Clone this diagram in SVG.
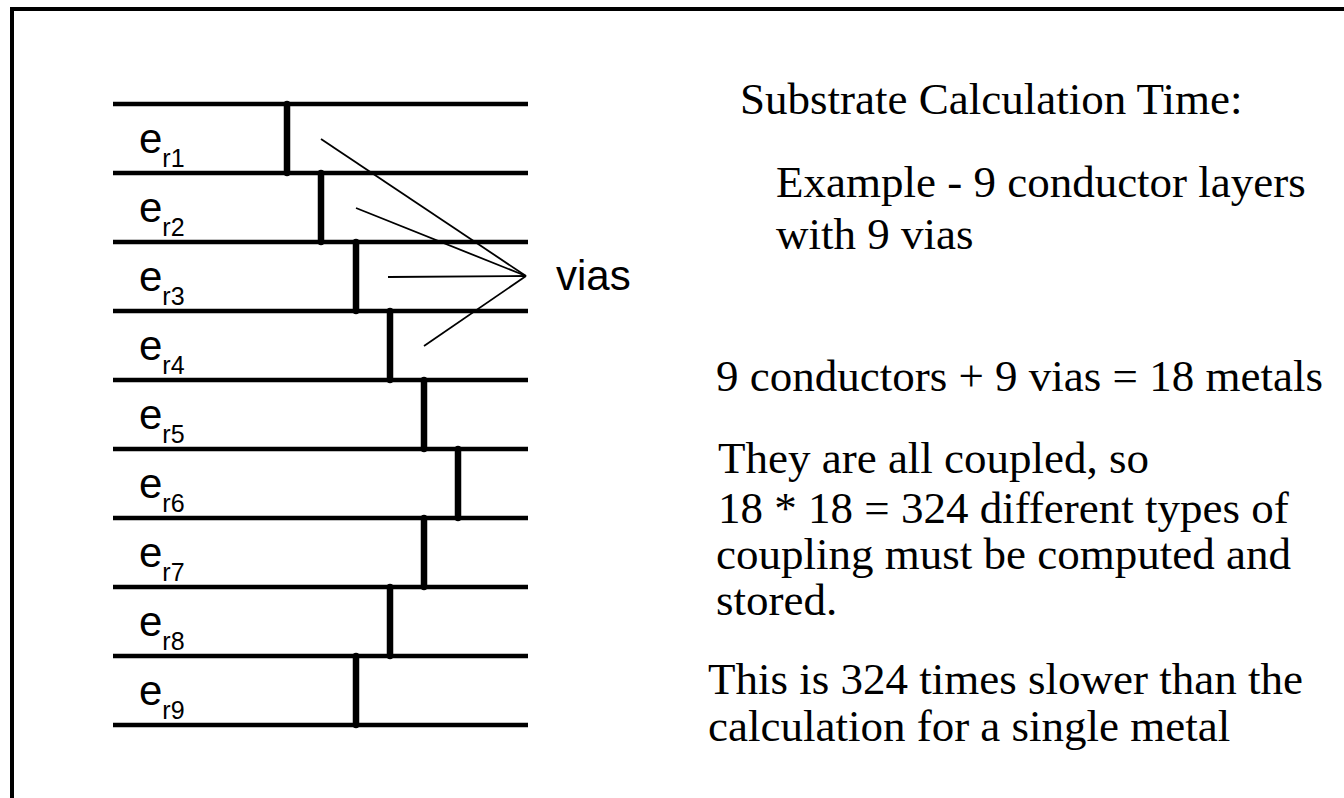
<svg xmlns="http://www.w3.org/2000/svg" width="1344" height="798" viewBox="0 0 1344 798">
<style>
.frame{fill:none;stroke:#000;stroke-width:4}
.layer{stroke:#000;stroke-width:4.5;stroke-linecap:butt}
.via{stroke:#000;stroke-width:6.5;stroke-linecap:round}
.ptr{stroke:#000;stroke-width:1.8;fill:none}
.lab{font-family:"Liberation Sans",Arial,sans-serif;fill:#000}
.e{font-size:42px}
.sub{font-size:25px}
.txt{font-family:"Liberation Serif","Times New Roman",serif;font-size:45px;fill:#000}
</style>
<rect width="1344" height="798" fill="#fff"/>
<path class="frame" d="M12,800 V9 H1350"/>
<g id="layers">
<line class="layer" x1="113" y1="104" x2="528" y2="104"/>
<line class="layer" x1="113" y1="173" x2="528" y2="173"/>
<line class="layer" x1="113" y1="242" x2="528" y2="242"/>
<line class="layer" x1="113" y1="311" x2="528" y2="311"/>
<line class="layer" x1="113" y1="380" x2="528" y2="380"/>
<line class="layer" x1="113" y1="449" x2="528" y2="449"/>
<line class="layer" x1="113" y1="518" x2="528" y2="518"/>
<line class="layer" x1="113" y1="587" x2="528" y2="587"/>
<line class="layer" x1="113" y1="656" x2="528" y2="656"/>
<line class="layer" x1="113" y1="725" x2="528" y2="725"/>
</g>
<g id="vias">
<line class="via" x1="287" y1="104" x2="287" y2="173"/>
<line class="via" x1="321" y1="173" x2="321" y2="242"/>
<line class="via" x1="356" y1="242" x2="356" y2="311"/>
<line class="via" x1="390" y1="311" x2="390" y2="380"/>
<line class="via" x1="424" y1="380" x2="424" y2="449"/>
<line class="via" x1="458" y1="449" x2="458" y2="518"/>
<line class="via" x1="424" y1="518" x2="424" y2="587"/>
<line class="via" x1="390" y1="587" x2="390" y2="656"/>
<line class="via" x1="356" y1="656" x2="356" y2="725"/>
</g>
<g id="labels">
<text class="lab" x="139" y="153"><tspan class="e">e</tspan><tspan class="sub" dy="14">r1</tspan></text>
<text class="lab" x="139" y="222"><tspan class="e">e</tspan><tspan class="sub" dy="14">r2</tspan></text>
<text class="lab" x="139" y="291"><tspan class="e">e</tspan><tspan class="sub" dy="14">r3</tspan></text>
<text class="lab" x="139" y="360"><tspan class="e">e</tspan><tspan class="sub" dy="14">r4</tspan></text>
<text class="lab" x="139" y="429"><tspan class="e">e</tspan><tspan class="sub" dy="14">r5</tspan></text>
<text class="lab" x="139" y="498"><tspan class="e">e</tspan><tspan class="sub" dy="14">r6</tspan></text>
<text class="lab" x="139" y="567"><tspan class="e">e</tspan><tspan class="sub" dy="14">r7</tspan></text>
<text class="lab" x="139" y="636"><tspan class="e">e</tspan><tspan class="sub" dy="14">r8</tspan></text>
<text class="lab" x="139" y="705"><tspan class="e">e</tspan><tspan class="sub" dy="14">r9</tspan></text>
</g>
<g id="connectors">
<line class="ptr" x1="321" y1="139" x2="526" y2="276"/>
<line class="ptr" x1="356" y1="208" x2="526" y2="276"/>
<line class="ptr" x1="388" y1="277" x2="526" y2="276"/>
<line class="ptr" x1="424" y1="346" x2="526" y2="276"/>
</g>
<g id="vias-label">
<text class="lab e" x="556" y="290">vias</text>
</g>
<g id="text">
<text class="txt" x="740" y="114">Substrate Calculation Time:</text>
<text class="txt" x="776" y="197">Example - 9 conductor layers</text>
<text class="txt" x="776" y="249">with 9 vias</text>
<text class="txt" x="716" y="391">9 conductors + 9 vias = 18 metals</text>
<text class="txt" x="718" y="473">They are all coupled, so</text>
<text class="txt" x="718" y="523">18 * 18 = 324 different types of</text>
<text class="txt" x="716" y="569">coupling must be computed and</text>
<text class="txt" x="716" y="615">stored.</text>
<text class="txt" x="708" y="694">This is 324 times slower than the</text>
<text class="txt" x="708" y="741">calculation for a single metal</text>
</g>
</svg>
